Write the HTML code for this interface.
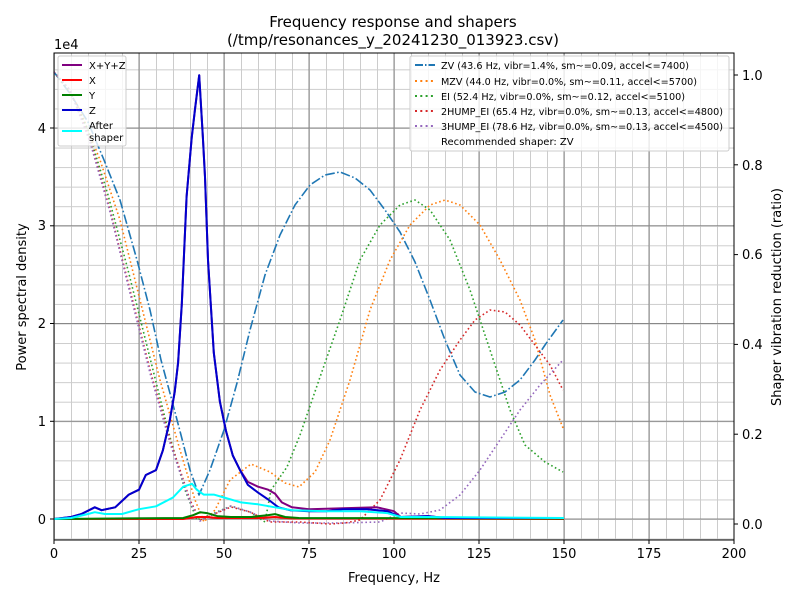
<!DOCTYPE html>
<html><head><meta charset="utf-8"><style>
body{margin:0;background:#fff}
svg{display:block;font-family:"DejaVu Sans","Liberation Sans",sans-serif}
</style></head><body>
<svg width="800" height="600" xmlns="http://www.w3.org/2000/svg">
<defs>
<pattern id="gx" x="54" y="0" width="17" height="600" patternUnits="userSpaceOnUse"><line x1="0.5" y1="0" x2="0.5" y2="600" stroke="#ccc" stroke-width="1"/></pattern>
<pattern id="gy" x="0" y="519" width="800" height="19.55" patternUnits="userSpaceOnUse"><line x1="0" y1="0.5" x2="800" y2="0.5" stroke="#ccc" stroke-width="1"/></pattern>
</defs>
<rect width="800" height="600" fill="#fff"/>
<rect x="54" y="53" width="680" height="487" fill="url(#gx)"/>
<rect x="54" y="53" width="680" height="487" fill="url(#gy)"/>
<g stroke="#888" stroke-width="1">
<line x1="139" y1="53" x2="139" y2="540"/><line x1="224" y1="53" x2="224" y2="540"/><line x1="309" y1="53" x2="309" y2="540"/><line x1="394" y1="53" x2="394" y2="540"/><line x1="479" y1="53" x2="479" y2="540"/><line x1="564" y1="53" x2="564" y2="540"/><line x1="649" y1="53" x2="649" y2="540"/>
<line x1="54" y1="519" x2="734" y2="519"/><line x1="54" y1="421.3" x2="734" y2="421.3"/><line x1="54" y1="323.5" x2="734" y2="323.5"/><line x1="54" y1="225.8" x2="734" y2="225.8"/><line x1="54" y1="128" x2="734" y2="128"/>
</g>
<g fill="none" stroke-width="1.6" stroke-linejoin="round">
<polyline stroke="#1f77b4" stroke-dasharray="9.6,2.4,1.6,2.4" points="54,72 71,95 88,122 104,160 120,200 137,260 150,310 161,360 171,397 181,435 190,470 199,495 210,470 224,430 237,383 250,330 265,275 280,235 295,205 310,185 325,175 340,172 355,178 370,190 385,210 400,232 415,262 430,300 445,340 460,375 475,392 490,397 505,392 520,380 535,360 545,345 563,320"/>
<polyline stroke="#ff7f0e" stroke-dasharray="1.6,2.6" points="54,72 67,88 80,110 100,160 120,220 140,300 160,380 180,450 195,500 204,522 215,510 230,480 251,464 270,472 285,483 299,487 315,472 330,440 350,380 370,310 390,260 410,225 430,205 445,200 460,205 480,225 500,260 520,300 535,340 550,395 563,428"/>
<polyline stroke="#2ca02c" stroke-dasharray="1.6,2.6" points="54,72 70,92 88,130 108,195 128,270 148,350 168,430 185,490 197,520 210,515 231,506 250,512 265,522 271,490 287,467 300,435 319,380 340,320 360,260 380,225 400,205 415,200 430,210 450,240 470,290 490,350 510,410 525,445 545,462 563,472"/>
<polyline stroke="#d62728" stroke-dasharray="1.6,2.6" points="54,72 70,90 90,140 110,210 130,290 150,370 170,440 190,500 200,520 212,515 231,507 250,512 270,522 300,522 330,524 345,523 360,520 380,500 400,460 420,410 440,370 460,340 475,320 490,310 505,312 520,325 535,345 550,365 563,390"/>
<polyline stroke="#9467bd" stroke-dasharray="1.6,2.6" points="54,72 70,90 90,142 110,212 130,293 150,373 170,443 190,502 200,521 212,515 231,506 250,512 270,521 300,523 340,523 380,522 400,513 420,514 440,510 460,495 480,470 500,440 520,410 540,385 563,360"/>
</g>
<g fill="none" stroke-width="2" stroke-linejoin="round">
<polyline stroke="red" points="54,519 183,519 196.8,517 207,517 217.2,518 258,518 275,517 292,518.5 564,519"/>
<polyline stroke="green" points="54,519 183.2,518 193.4,515.1 200.2,512.2 207,513.1 217.2,516.1 230.8,517 251.2,517 268.2,515.1 275,514.1 285.2,517 298.8,518 564,518.5"/>
<polyline stroke="purple" points="54,519 71,517 81.2,514.1 94.8,507.3 101.6,510.2 115.2,507.3 128.8,494.6 139,489.7 145.8,475 156,470.1 162.8,450.6 169.6,421.3 174.7,391.9 178.1,362.6 181.8,304 186.6,196.4 191.7,137.8 195.1,108.4 199.2,75.2 202.9,137.8 205,176.9 208,260 213.8,352.8 219.9,401.7 226,431 232.8,455.5 240,470.1 247.8,481.9 258,486.7 268.2,489.7 275,493.6 281.8,502.4 292,507.3 309,509.2 343,508.2 377,507.3 394,511.2 400.8,517 428,516.1 445,518 564,518"/>
<polyline stroke="#0000cd" points="54,519 71,517 81.2,514.1 94.8,507.3 101.6,510.2 115.2,507.3 128.8,494.6 139,489.7 145.8,475 156,470.1 162.8,450.6 169.6,421.3 174.7,391.9 178.1,362.6 181.8,304 186.6,196.4 191.7,137.8 195.1,108.4 199.2,75.2 202.9,137.8 205,176.9 208,260 213.8,352.8 219.9,401.7 226,431 232.8,455.5 240,470.1 247.8,484.8 258,492.6 268.2,499.5 278.4,507.3 290,510.2 309,511.2 326,511.2 343,509.2 366.8,509.2 387.2,511.2 400.8,517 428,516.1 445,518 564,518"/>
<polyline stroke="cyan" points="54,519 71,518 88,514 94.8,512.2 105,514 122,514 139,509.2 156,506.3 173,497.5 183.2,486.7 192,483.8 196.8,489.7 203.6,494.6 213.8,494.6 224,497.5 241,502.4 258,504.3 275,507.3 292,510.2 326,511.2 360,511.2 387.2,513.1 400.8,517 428,517 564,518"/>
</g>
<rect x="54" y="53" width="680" height="487" fill="none" stroke="#000" stroke-width="1"/>
<g stroke="#000" stroke-width="1">
<line x1="54" y1="540" x2="54" y2="544"/><line x1="139" y1="540" x2="139" y2="544"/><line x1="224" y1="540" x2="224" y2="544"/><line x1="309" y1="540" x2="309" y2="544"/><line x1="394" y1="540" x2="394" y2="544"/><line x1="479" y1="540" x2="479" y2="544"/><line x1="564" y1="540" x2="564" y2="544"/><line x1="649" y1="540" x2="649" y2="544"/><line x1="734" y1="540" x2="734" y2="544"/>
<line x1="50" y1="519" x2="54" y2="519"/><line x1="50" y1="421.3" x2="54" y2="421.3"/><line x1="50" y1="323.5" x2="54" y2="323.5"/><line x1="50" y1="225.8" x2="54" y2="225.8"/><line x1="50" y1="128" x2="54" y2="128"/>
<line x1="734" y1="524" x2="738" y2="524"/><line x1="734" y1="434.2" x2="738" y2="434.2"/><line x1="734" y1="344.4" x2="738" y2="344.4"/><line x1="734" y1="254.6" x2="738" y2="254.6"/><line x1="734" y1="164.8" x2="738" y2="164.8"/><line x1="734" y1="75" x2="738" y2="75"/>
</g>
<g font-size="13" text-anchor="middle">
<text x="54" y="558">0</text><text x="139" y="558">25</text><text x="224" y="558">50</text><text x="309" y="558">75</text><text x="394" y="558">100</text><text x="479" y="558">125</text><text x="564" y="558">150</text><text x="649" y="558">175</text><text x="734" y="558">200</text>
</g>
<g font-size="13" text-anchor="end">
<text x="46" y="524">0</text><text x="46" y="426">1</text><text x="46" y="328">2</text><text x="46" y="230">3</text><text x="46" y="133">4</text>
</g>
<g font-size="13">
<text x="742" y="529">0.0</text><text x="742" y="439">0.2</text><text x="742" y="349">0.4</text><text x="742" y="259">0.6</text><text x="742" y="170">0.8</text><text x="742" y="80">1.0</text>
</g>
<text x="393" y="27" font-size="15" text-anchor="middle">Frequency response and shapers</text>
<text x="393" y="45" font-size="15" text-anchor="middle">(/tmp/resonances_y_20241230_013923.csv)</text>
<text x="54" y="49" font-size="13">1e4</text>
<text x="394" y="582" font-size="13" text-anchor="middle">Frequency, Hz</text>
<text transform="translate(26,297) rotate(-90)" font-size="13" text-anchor="middle">Power spectral density</text>
<text transform="translate(781,297) rotate(-90)" font-size="13" text-anchor="middle">Shaper vibration reduction (ratio)</text>
<g font-size="10">
<rect x="58" y="56" width="68" height="90" fill="#fff" fill-opacity="0.8" stroke="#ccc" rx="2"/>
<line x1="62" y1="65" x2="82" y2="65" stroke="purple" stroke-width="2"/><text x="89" y="69">X+Y+Z</text>
<line x1="62" y1="80" x2="82" y2="80" stroke="red" stroke-width="2"/><text x="89" y="84">X</text>
<line x1="62" y1="95" x2="82" y2="95" stroke="green" stroke-width="2"/><text x="89" y="99">Y</text>
<line x1="62" y1="110" x2="82" y2="110" stroke="#0000cd" stroke-width="2"/><text x="89" y="114">Z</text>
<line x1="62" y1="131" x2="82" y2="131" stroke="cyan" stroke-width="2"/><text x="89" y="129">After</text><text x="89" y="141">shaper</text>
</g>
<g font-size="10">
<rect x="410" y="56" width="319" height="95" fill="#fff" fill-opacity="0.8" stroke="#ccc" rx="2"/>
<line x1="415" y1="65" x2="435" y2="65" stroke="#1f77b4" stroke-width="2" stroke-dasharray="8,2,1.5,2"/><text x="441" y="69" textLength="248" lengthAdjust="spacingAndGlyphs">ZV (43.6 Hz, vibr=1.4%, sm~=0.09, accel&lt;=7400)</text>
<line x1="415" y1="81" x2="435" y2="81" stroke="#ff7f0e" stroke-width="2" stroke-dasharray="2,3.3"/><text x="441" y="85" textLength="256" lengthAdjust="spacingAndGlyphs">MZV (44.0 Hz, vibr=0.0%, sm~=0.11, accel&lt;=5700)</text>
<line x1="415" y1="96" x2="435" y2="96" stroke="#2ca02c" stroke-width="2" stroke-dasharray="2,3.3"/><text x="441" y="100" textLength="244" lengthAdjust="spacingAndGlyphs">EI (52.4 Hz, vibr=0.0%, sm~=0.12, accel&lt;=5100)</text>
<line x1="415" y1="111" x2="435" y2="111" stroke="#d62728" stroke-width="2" stroke-dasharray="2,3.3"/><text x="441" y="115" textLength="282" lengthAdjust="spacingAndGlyphs">2HUMP_EI (65.4 Hz, vibr=0.0%, sm~=0.13, accel&lt;=4800)</text>
<line x1="415" y1="126" x2="435" y2="126" stroke="#9467bd" stroke-width="2" stroke-dasharray="2,3.3"/><text x="441" y="130" textLength="282" lengthAdjust="spacingAndGlyphs">3HUMP_EI (78.6 Hz, vibr=0.0%, sm~=0.13, accel&lt;=4500)</text>
<text x="441" y="145">Recommended shaper: ZV</text>
</g>
</svg>
</body></html>
